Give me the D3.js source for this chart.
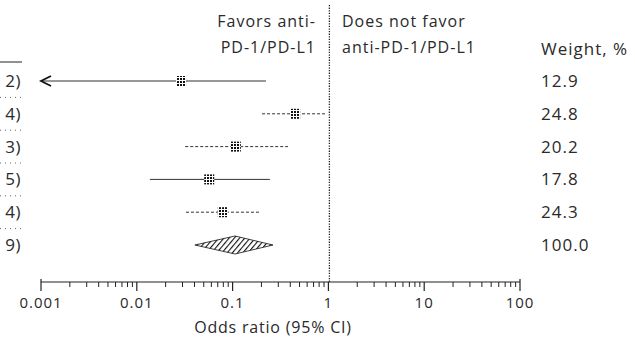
<!DOCTYPE html>
<html><head><meta charset="utf-8">
<script src="https://cdn.jsdelivr.net/npm/d3@7"></script>
<style>body{margin:0;background:#fff}svg{display:block}text{font-family:"Open Sans","Liberation Sans",sans-serif;fill:#2a2a2a}</style>
</head><body><svg id="c" width="635" height="352"></svg>
<script>
// ---- data ----
const studyLabels = ["2)", "4)", "3)", "5)", "4)", "9)"];
const oddsRatio = [0.029, 0.45, 0.108, 0.057, 0.079, 0.106];
const ciLower   = [0.0004, 0.203, 0.032, 0.0137, 0.0326, 0.0404];
const ciUpper   = [0.223, 0.92, 0.378, 0.245, 0.193, 0.264];
const lineStyle = ["solid", "dashed", "dashed", "solid", "dashed", "pooled"];
const weights   = ["12.9", "24.8", "20.2", "17.8", "24.3", "100.0"];
const tickValues = [0.001, 0.01, 0.1, 1, 10, 100];
const tickLabels = ["0.001", "0.01", "0.1", "1", "10", "100"];
const headerLeft  = ["Favors anti-", "PD-1/PD-L1"];
const headerRight = ["Does not favor", "anti-PD-1/PD-L1"];
const weightHeader = "Weight, %";
const axisTitle = "Odds ratio (95% CI)";

// ---- drawing ----
const svg = d3.select("#c");
const x = d3.scaleLog().domain([0.001, 100]).range([41, 520]);
const y = d3.scalePoint().domain(d3.range(studyLabels.length)).range([81, 245]);

const defs = svg.append("defs");
const hp = defs.append("pattern").attr("id","hatch").attr("patternUnits","userSpaceOnUse")
  .attr("width",4).attr("height",4).attr("patternTransform","rotate(40)");
hp.append("rect").attr("width",4).attr("height",4).attr("fill","#fff");
hp.append("line").attr("x1",0).attr("y1",0).attr("x2",0).attr("y2",4).attr("stroke","#111").attr("stroke-width",2.2);
const cp = defs.append("pattern").attr("id","check").attr("patternUnits","userSpaceOnUse")
  .attr("width",3).attr("height",3);
cp.append("rect").attr("width",3).attr("height",3).attr("fill","#fff");
cp.append("rect").attr("width",2).attr("height",2).attr("fill","#111");

const T = {"font-size":16, "letter-spacing":"1px"};
function txt(sel, attrs){ Object.entries(attrs).forEach(([k,v])=>sel.attr(k,v)); return sel; }

// left edge fragments
svg.append("line").attr("x1",0).attr("x2",22).attr("y1",62).attr("y2",62).attr("stroke","#222").attr("stroke-width",1);
studyLabels.forEach((s,i)=>{
  txt(svg.append("text"),{x:21,y:y(i)+6,"text-anchor":"end","font-size":17,"letter-spacing":"0.5px"}).text(s);
  if(i>0){
    const yy=(y(i)+y(i-1))/2;
    svg.append("line").attr("x1",0).attr("x2",22).attr("y1",yy).attr("y2",yy)
      .attr("stroke","#666").attr("stroke-dasharray","1,4");
  }
});

// reference line at OR=1
svg.append("line").attr("x1",x(1)+1).attr("x2",x(1)+1).attr("y1",5).attr("y2",282)
  .attr("stroke","#222").attr("stroke-width",1.3).attr("stroke-dasharray","1.3,1.3");

// headers
headerLeft.forEach((t,i)=>txt(svg.append("text"),{x:316,y:27+i*26,"text-anchor":"end",...T}).text(t));
headerRight.forEach((t,i)=>txt(svg.append("text"),{x:342,y:27+i*26,...T}).text(t));
txt(svg.append("text"),{x:541,y:55,"font-size":17,"letter-spacing":"1px"}).text(weightHeader);
weights.forEach((w,i)=>txt(svg.append("text"),{x:541,y:y(i)+6,"font-size":17,"letter-spacing":"1px",fill:"#444"}).text(w));

// CI lines and markers
const xmin = x.domain()[0];
oddsRatio.forEach((or,i)=>{
  const yy=y(i);
  if(lineStyle[i]==="pooled"){
    const h=9;
    svg.append("path").attr("d",`M${x(ciLower[i])},${yy}L${x(or)},${yy-h}L${x(ciUpper[i])},${yy}L${x(or)},${yy+h}Z`)
      .attr("fill","url(#hatch)").attr("stroke","#111").attr("stroke-width",0.8);
    return;
  }
  const lo=Math.max(ciLower[i],xmin);
  svg.append("line").attr("x1",x(lo)).attr("x2",x(ciUpper[i])).attr("y1",yy).attr("y2",yy)
    .attr("stroke","#333").attr("stroke-width",1)
    .attr("stroke-dasharray",lineStyle[i]==="dashed"?"3,2":null);
  if(ciLower[i]<xmin){
    const ax=x(xmin);
    svg.append("path").attr("d",`M${ax+10},${yy-5}L${ax},${yy}L${ax+10},${yy+5}`)
      .attr("fill","none").attr("stroke","#111").attr("stroke-width",1.8);
  }
  const s=10;
  svg.append("rect").attr("x",x(or)-s/2).attr("y",yy-s/2).attr("width",s).attr("height",s)
    .attr("fill","url(#check)");
});

// axis
const axisY=282;
const g=svg.append("g");
g.append("line").attr("x1",x(0.001)).attr("x2",x(100)).attr("y1",axisY).attr("y2",axisY).attr("stroke","#222").attr("stroke-width",1.2);
const minor=[];
for(let d=0.001; d<100; d*=10){ for(let k=2;k<=9;k++) minor.push(d*k); }
g.selectAll(".mn").data(minor).join("line").attr("x1",d=>x(d)).attr("x2",d=>x(d))
  .attr("y1",axisY).attr("y2",axisY+5).attr("stroke","#222");
g.selectAll(".mj").data(tickValues).join("line").attr("x1",d=>x(d)).attr("x2",d=>x(d))
  .attr("y1",(d,i)=>(i===0||i===tickValues.length-1)?axisY-3:axisY).attr("y2",axisY+9).attr("stroke","#222").attr("stroke-width",1.2);
g.selectAll(".tl").data(tickValues).join("text").attr("x",d=>x(d)).attr("y",308)
  .attr("text-anchor","middle").attr("font-size",15).attr("letter-spacing","1px").attr("fill","#444").text((d,i)=>tickLabels[i]);
txt(svg.append("text"),{x:273,y:333,"text-anchor":"middle","font-size":16,"letter-spacing":"0.8px",fill:"#333"}).text(axisTitle);
</script></body></html>
